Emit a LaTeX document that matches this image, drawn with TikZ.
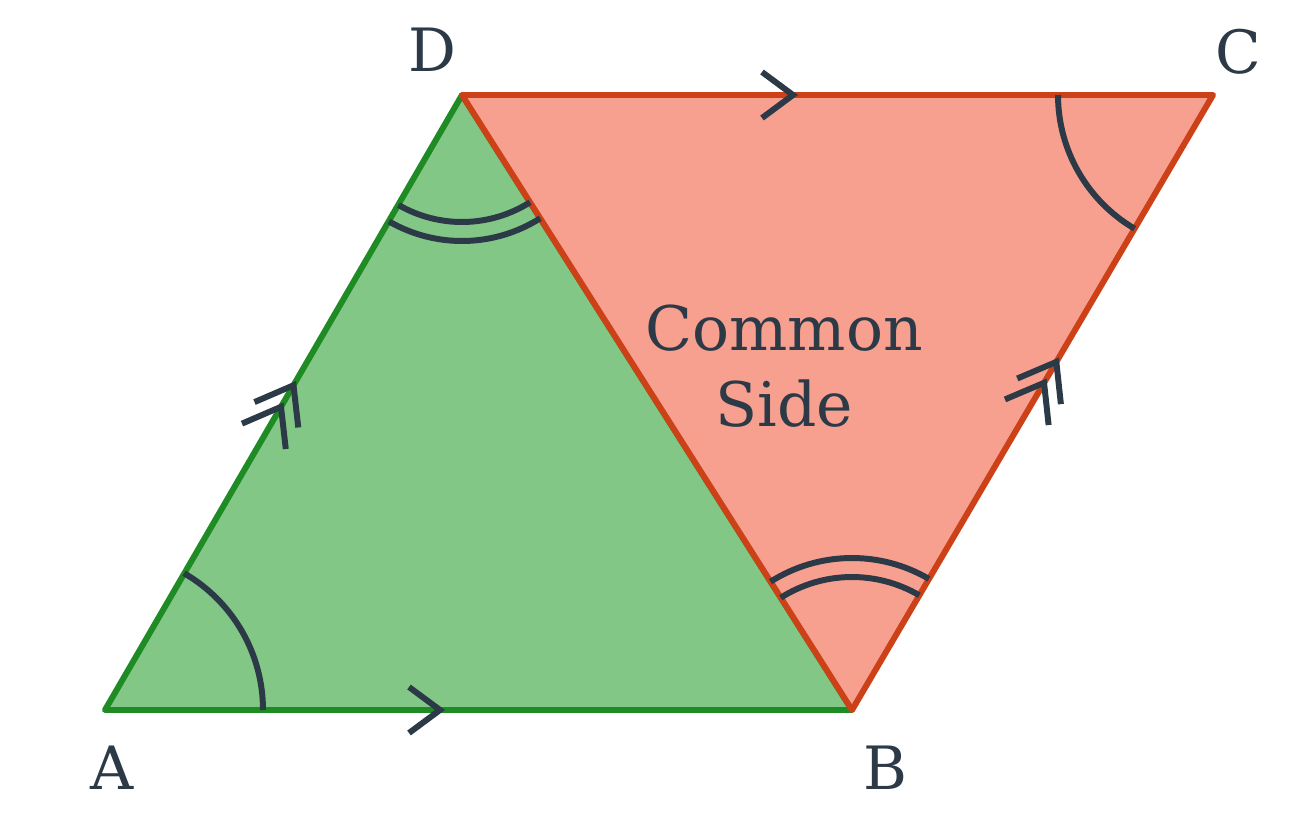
\documentclass[tikz,border=0pt]{standalone}
\usepackage{fontspec}
\setmainfont{DejaVu Serif}
\usetikzlibrary{calc}

\definecolor{greenfill}{HTML}{82C785}
\definecolor{greenline}{HTML}{1F8B24}
\definecolor{redfill}{HTML}{F7A090}
\definecolor{redline}{HTML}{CC4118}
\definecolor{inkdark}{HTML}{2C3A48}

\tikzset{
    edgeline/.style={line width=1.7pt, line join=round},
    anglemark/.style={inkdark, line width=1.7pt},
    tickmark/.style={inkdark, line width=1.7pt},
    vertexlabel/.style={text=inkdark, font=\fontsize{17}{20}\selectfont},
    chevron/.pic={\draw[tickmark] (-0.31,0.23) -- (0,0) -- (-0.31,-0.23);}
}

\begin{document}
\begin{tikzpicture}

    % Keep the page the size of the reference
    \useasboundingbox (0,0) rectangle (12.93,8.16);

    % Corners of the parallelogram
    \coordinate (A) at (1.05,1.06);
    \coordinate (B) at (8.52,1.06);
    \coordinate (C) at (12.13,7.21);
    \coordinate (D) at (4.62,7.21);

    % Left triangle ABD in green
    \filldraw[edgeline, fill=greenfill, draw=greenline] (A) -- (B) -- (D) -- cycle;

    % Right triangle DCB in red, drawn on top so the common side is red
    \filldraw[edgeline, fill=redfill, draw=redline] (D) -- (C) -- (B) -- cycle;

    % Single arcs for the equal angles at A and C
    \draw[anglemark] ([shift={(0:1.58)}]A) arc[start angle=0, end angle=60, radius=1.58];
    \draw[anglemark] ([shift={(180:1.55)}]C) arc[start angle=180, end angle=239.6, radius=1.55];

    % Double arcs for the alternate angles at D and B
    \draw[anglemark] ([shift={(240:1.27)}]D) arc[start angle=240, end angle=302.4, radius=1.27];
    \draw[anglemark] ([shift={(240:1.46)}]D) arc[start angle=240, end angle=302.4, radius=1.46];
    \draw[anglemark] ([shift={(59.6:1.33)}]B) arc[start angle=59.6, end angle=122.4, radius=1.33];
    \draw[anglemark] ([shift={(59.6:1.52)}]B) arc[start angle=59.6, end angle=122.4, radius=1.52];

    % Single chevrons on the parallel sides AB and DC
    \pic at (4.40,1.06) {chevron};
    \pic at (7.93,7.21) {chevron};

    % Double chevrons on the parallel sides AD and BC
    \pic[rotate=59.9, scale=1.1] at ($(A)!0.493!(D)$) {chevron};
    \pic[rotate=59.9, scale=1.1] at ($(A)!0.528!(D)$) {chevron};
    \pic[rotate=59.6, scale=1.1] at ($(B)!0.532!(C)$) {chevron};
    \pic[rotate=59.6, scale=1.1] at ($(B)!0.566!(C)$) {chevron};

    % Vertex labels
    \node[vertexlabel] (labA) at (1.12,0.48) {A};
    \node[vertexlabel] (labB) at (8.85,0.48) {B};
    \node[vertexlabel] (labC) at (12.38,7.64) {C};
    \node[vertexlabel] (labD) at (4.32,7.66) {D};

    % Text inside the red triangle
    \node[text=inkdark, align=center, font=\fontsize{17.5}{21.5}\selectfont] (common) at (7.84,4.50) {Common\\Side};

\end{tikzpicture}
\end{document}
